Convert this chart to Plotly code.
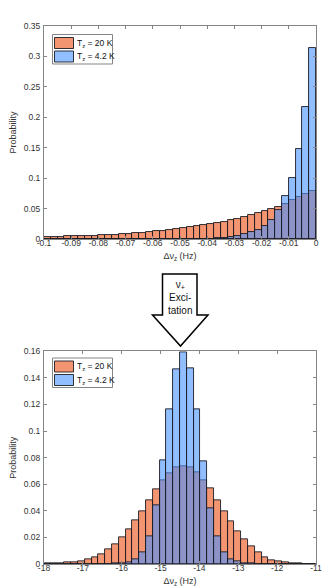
import numpy as np
import plotly.graph_objects as go

# 40 equal bins per panel
top_edges = np.linspace(-0.1, 0.0, 41)
bot_edges = np.linspace(-18.0, -11.0, 41)

# probability per bin
top_p_20K = [0.0036, 0.0037, 0.0040, 0.0043, 0.0045, 0.0049, 0.0053, 0.0057, 0.0062, 0.0068,
             0.0074, 0.0080, 0.0088, 0.0096, 0.0104, 0.0113, 0.0124, 0.0136, 0.0150, 0.0165,
             0.0180, 0.0198, 0.0214, 0.0225, 0.0242, 0.0262, 0.0286, 0.0310, 0.0335, 0.0365,
             0.0388, 0.0423, 0.0453, 0.0494, 0.0534, 0.0578, 0.0633, 0.0684, 0.0735, 0.0797]
top_p_4K = [0.0, 0.0, 0.0, 0.0, 0.0, 0.0, 0.0, 0.0, 0.0, 0.0,
            0.0, 0.0, 0.0, 0.0, 0.0, 0.0001, 0.0001, 0.0001, 0.0002, 0.0002,
            0.0003, 0.0004, 0.0005, 0.0006, 0.0008, 0.0012, 0.0018, 0.0030, 0.0045, 0.0075,
            0.0110, 0.0150, 0.0215, 0.0310, 0.0480, 0.0700, 0.1010, 0.1480, 0.2165, 0.3140]
bot_p_20K = [0.0002, 0.0003, 0.0008, 0.0010, 0.0015, 0.0023, 0.0035, 0.0053, 0.0076, 0.0110,
             0.0148, 0.0199, 0.0260, 0.0330, 0.0400, 0.0480, 0.0560, 0.0630, 0.0680, 0.0728,
             0.0733, 0.0728, 0.0688, 0.0633, 0.0570, 0.0480, 0.0400, 0.0324, 0.0244, 0.0186,
             0.0130, 0.0085, 0.0050, 0.0030, 0.0018, 0.0010, 0.0005, 0.0003, 0.0001, 0.0]
bot_p_4K = [0.0, 0.0, 0.0, 0.0, 0.0, 0.0, 0.0, 0.0, 0.0, 0.0,
            0.0002, 0.0006, 0.0015, 0.0035, 0.0090, 0.0210, 0.0440, 0.0780, 0.1160, 0.1466,
            0.1590, 0.1474, 0.1163, 0.0770, 0.0420, 0.0210, 0.0085, 0.0035, 0.0018, 0.0008,
            0.0003, 0.0001, 0.0, 0.0, 0.0, 0.0, 0.0, 0.0, 0.0, 0.0]

top_xticks = [-0.1, -0.09, -0.08, -0.07, -0.06, -0.05, -0.04, -0.03, -0.02, -0.01, 0]
top_xtick_text = ["-0.1", "-0.09", "-0.08", "-0.07", "-0.06", "-0.05", "-0.04", "-0.03", "-0.02", "-0.01", "0"]
top_yticks = [0, 0.05, 0.1, 0.15, 0.2, 0.25, 0.3, 0.35]
top_ytick_text = ["0", "0.05", "0.1", "0.15", "0.2", "0.25", "0.3", "0.35"]
bot_xticks = [-18, -17, -16, -15, -14, -13, -12, -11]
bot_xtick_text = ["-18", "-17", "-16", "-15", "-14", "-13", "-12", "-11"]
bot_yticks = [0, 0.02, 0.04, 0.06, 0.08, 0.1, 0.12, 0.14, 0.16]
bot_ytick_text = ["0", "0.02", "0.04", "0.06", "0.08", "0.1", "0.12", "0.14", "0.16"]

series_names = ["T<sub>z</sub> = 20 K", "T<sub>z</sub> = 4.2 K"]
x_title = "Δν<sub>z</sub> (Hz)"
y_title = "Probability"
arrow_text = "ν<sub>+</sub><br>Exci-<br>tation"

ORANGE = "rgba(236,78,18,0.6)"
BLUE = "rgba(72,146,255,0.6)"
EDGE = "#1c1c24"
AXIS = "#858585"
TEXT = "#333333"
FONT = "Liberation Sans, Arial, sans-serif"

W, H = 332, 588
ML, MR, MT, MB = 36, 24, 18, 32


def px(x, y):
    """pixel position -> paper coords"""
    return (x - ML) / (W - ML - MR), (H - MB - y) / (H - MT - MB)


fig = go.Figure()

for edges, vals, xa, ya in [(top_edges, top_p_20K, "x", "y"), (top_edges, top_p_4K, "x", "y"),
                            (bot_edges, bot_p_20K, "x2", "y2"), (bot_edges, bot_p_4K, "x2", "y2")]:
    centers = (edges[:-1] + edges[1:]) / 2
    color = ORANGE if vals in (top_p_20K, bot_p_20K) else BLUE
    fig.add_trace(go.Bar(
        x=centers, y=vals, width=edges[1] - edges[0],
        marker=dict(color=color, line=dict(color=EDGE, width=0.9)),
        xaxis=xa, yaxis=ya, showlegend=False,
    ))

axis_common = dict(
    showline=True, linecolor=AXIS, linewidth=1, mirror="ticks",
    ticks="inside", ticklen=3, tickcolor=AXIS, tickwidth=1,
    showgrid=False, zeroline=False, automargin=False,
    tickfont=dict(size=8.5, color=TEXT, family=FONT),
)
x_common = dict(ticklabelstandoff=-4,
                title=dict(text=x_title, font=dict(size=9), standoff=5), **axis_common)
y_common = dict(ticklabelstandoff=1,
                title=dict(text=y_title, font=dict(size=9), standoff=9), **axis_common)

fig.update_layout(
    width=W, height=H,
    margin=dict(l=ML, r=MR, t=MT, b=MB),
    paper_bgcolor="white", plot_bgcolor="white",
    barmode="overlay", bargap=0,
    font=dict(family=FONT, color=TEXT),
    xaxis=dict(domain=[0, 1], anchor="y", range=[-0.1, 0],
               tickvals=top_xticks, ticktext=top_xtick_text, **x_common),
    yaxis=dict(domain=[px(0, 231)[1], 1], anchor="x", range=[0, 0.35],
               tickvals=top_yticks, ticktext=top_ytick_text, **y_common),
    xaxis2=dict(domain=[0, 1], anchor="y2", range=[-18, -11],
                tickvals=bot_xticks, ticktext=bot_xtick_text, **x_common),
    yaxis2=dict(domain=[0, px(0, 343.3)[1]], anchor="x2", range=[0, 0.16],
                tickvals=bot_yticks, ticktext=bot_ytick_text, **y_common),
)

# legends (Matlab-style patches)
shapes = []
annotations = []
for top in (26.5, 350):
    x0, y0 = px(44.5, top)
    x1, y1 = px(104.5, top + 29.5)
    shapes.append(dict(type="rect", xref="paper", yref="paper", x0=x0, y0=y0, x1=x1, y1=y1,
                       line=dict(color=AXIS, width=1), fillcolor="white", layer="above"))
    for k, (name, color) in enumerate(zip(series_names, [ORANGE, BLUE])):
        ry = top + 3 + k * 13.5
        a0, b0 = px(46.5, ry)
        a1, b1 = px(65.5, ry + 11)
        shapes.append(dict(type="rect", xref="paper", yref="paper", x0=a0, y0=b0, x1=a1, y1=b1,
                           line=dict(color=EDGE, width=0.9), fillcolor=color, layer="above"))
        tx, ty = px(67, ry + 5.5)
        annotations.append(dict(text=name, xref="paper", yref="paper", x=tx, y=ty,
                                xanchor="left", yanchor="middle", showarrow=False,
                                font=dict(size=8.5, color="#111111", family=FONT)))

# block arrow between the panels
pts = [(154.5, 266), (189, 266), (189, 307), (200, 307), (172.5, 338), (144.5, 307), (154.5, 307)]
path = "M " + " L ".join("%.5f,%.5f" % px(x, y) for x, y in pts) + " Z"
shapes.append(dict(type="path", xref="paper", yref="paper", path=path,
                   line=dict(color="black", width=1.5), fillcolor="white"))
ax_, ay_ = px(172, 289)
annotations.append(dict(text=arrow_text, xref="paper", yref="paper", x=ax_, y=ay_,
                        xanchor="center", yanchor="middle", showarrow=False,
                        font=dict(size=10, color="#111111", family=FONT)))

fig.update_layout(shapes=shapes, annotations=annotations)

fig.write_html("out.html")
